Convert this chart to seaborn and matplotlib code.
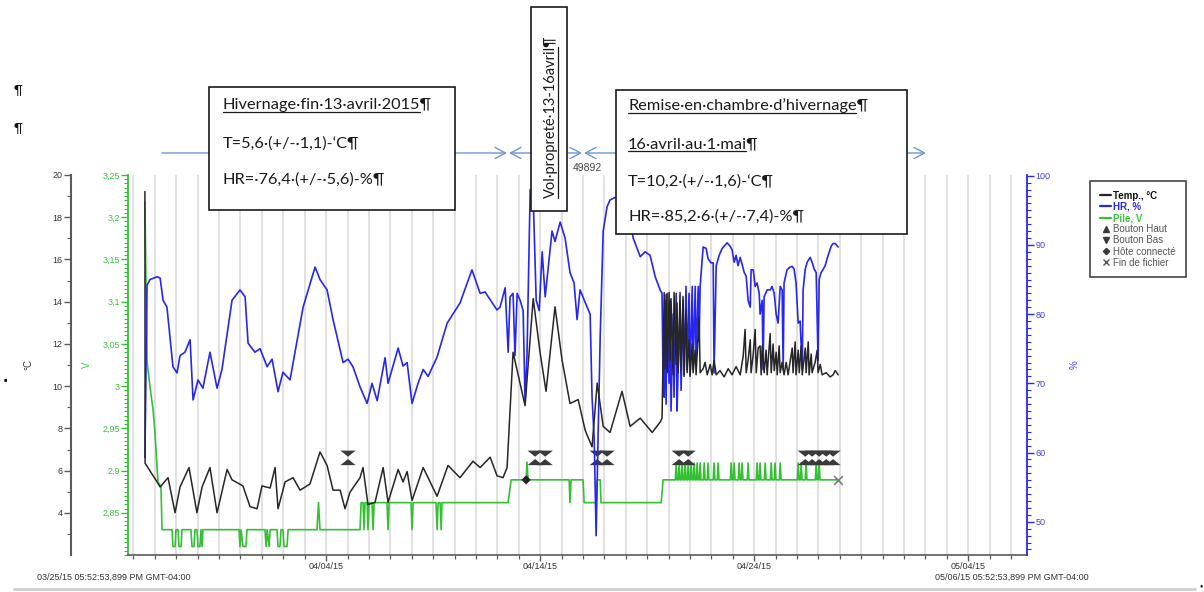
import numpy as np
import pandas as pd
import matplotlib
matplotlib.use("Agg")
import matplotlib.pyplot as plt
import matplotlib.dates as mdates
from matplotlib.lines import Line2D
from matplotlib.patches import Rectangle, FancyArrowPatch
from matplotlib.ticker import FixedLocator, MultipleLocator, FuncFormatter
import seaborn as sns

sns.set_theme(style="white")
plt.rcParams["font.family"] = ["Liberation Sans", "DejaVu Sans"]

START = pd.Timestamp("2015-03-25 17:52:53.899")
END = pd.Timestamp("2015-05-06 17:52:53.899")

# ---------------- logger records (days elapsed since START) ----------------
temp_days = [0.79, 0.80, 1.36, 1.50, 1.87, 2.20, 2.43, 2.85, 3.22, 3.46, 3.83, 4.16, 4.63, 4.86,
             5.37, 5.70, 6.03, 6.26, 6.64, 6.87, 7.01, 7.34, 7.71, 8.04, 8.50, 8.97, 9.30, 9.58,
             9.91, 10.14, 10.37, 10.84, 10.98, 11.21, 11.54, 11.92, 12.15, 12.62, 12.85, 13.04,
             13.27, 13.79, 14.44, 14.95, 15.51, 16.12, 16.45, 16.92, 17.24, 17.52, 17.71, 17.99,
             18.55, 18.93, 19.25, 19.53, 19.95, 20.28, 20.65, 21.03, 21.36, 21.68, 21.92, 22.20,
             22.52, 23.08, 23.46, 23.93, 24.49, 24.86, 24.95,
             25.05, 25.09, 25.14, 25.19, 25.28, 25.33, 25.37, 25.47, 25.51, 25.61, 25.65, 25.70,
             25.79, 25.84, 25.93, 25.98, 26.07, 26.12, 26.21, 26.26, 26.36, 26.40, 26.50, 26.54,
             26.68, 26.73, 26.87, 26.96, 27.06, 27.20, 27.29, 27.38, 27.48, 27.66, 27.85, 28.04,
             28.22, 28.41, 28.60, 28.74, 28.83, 28.88, 28.97, 29.07, 29.11, 29.21, 29.30, 29.35,
             29.44, 29.53, 29.58, 29.63, 29.72, 29.81, 29.86, 30.00, 30.05, 30.14, 30.19, 30.28,
             30.33, 30.42, 30.47, 30.56, 30.65, 30.75, 30.84, 31.03, 31.07, 31.17, 31.21, 31.31,
             31.36, 31.45, 31.50, 31.64, 31.68, 31.78, 31.82, 31.92, 31.96, 32.10, 32.20, 32.24,
             32.34, 32.43, 32.62, 32.80, 32.94, 33.04, 33.18]
temp_c = [19.22, 6.35, 5.47, 5.23, 5.67, 4.01, 5.23, 6.15, 4.01, 5.23, 6.15, 4.01, 6.06, 5.57,
          5.28, 4.30, 4.20, 5.28, 5.18, 6.15, 4.20, 5.47, 5.67, 5.08, 5.37, 6.89, 6.25, 5.08,
          5.08, 4.20, 4.98, 5.67, 6.15, 4.40, 4.50, 6.15, 4.50, 6.06, 5.47, 5.96,
          4.59, 6.15, 4.79, 6.25, 5.67, 6.45, 6.15, 6.64, 5.76, 5.67, 6.15, 11.61,
          9.08, 14.15, 11.61, 9.76, 13.76, 11.23, 9.18, 9.37, 7.91, 7.13, 10.15, 8.10,
          7.81, 9.76, 8.10, 8.49, 7.81, 8.30, 8.49,
          14.44, 10.83, 14.34, 10.64, 14.44, 11.23, 14.15, 10.54, 14.44, 11.03, 13.95, 10.64,
          14.44, 10.74, 14.25, 10.54, 13.66, 10.64, 12.20, 10.54, 12.00, 10.64, 11.71, 10.54,
          13.27, 10.64, 10.83, 11.13, 10.54, 11.03, 10.54, 11.23, 10.54, 10.74, 10.44, 10.83,
          10.54, 10.93, 10.54, 11.42, 12.69, 10.64, 11.23, 12.20, 10.64, 11.52, 12.69, 10.64,
          11.81, 11.91, 10.54, 11.91, 10.64, 11.71, 10.54, 12.49, 10.64, 12.00, 10.74, 11.61,
          10.54, 11.91, 10.64, 11.13, 10.54, 11.13, 10.54, 11.81, 10.64, 12.10, 10.54, 11.71,
          10.64, 11.91, 10.54, 11.81, 10.64, 12.10, 10.54, 11.52, 10.64, 11.13, 11.71, 10.64,
          11.03, 10.54, 10.64, 10.44, 10.54, 10.74, 10.54]

hr_days = [0.79, 0.89, 1.03, 1.36, 1.50, 1.64, 1.82, 2.10, 2.29, 2.43, 2.66, 2.90, 3.04, 3.27,
           3.50, 3.83, 4.16, 4.39, 4.86, 5.23, 5.47, 5.61, 5.93, 6.17, 6.50, 6.73, 7.01, 7.24,
           7.57, 8.18, 8.74, 8.97, 9.30, 9.58, 10.05, 10.28, 10.51, 10.84, 11.17, 11.40, 11.64,
           12.01, 12.15, 12.62, 12.85, 13.04, 13.27, 13.55, 13.79, 14.02, 14.44, 14.91, 15.51,
           16.07, 16.45, 16.68, 17.24, 17.38, 17.62, 17.76, 17.85, 17.99, 18.08, 18.18, 18.32,
           18.46, 18.55, 18.64, 18.79, 18.93, 19.07, 19.21, 19.35, 19.49, 19.81, 19.95, 20.19,
           20.42, 20.65, 20.84, 20.98, 21.12, 21.45, 21.59, 21.68, 21.78, 21.87, 21.96, 22.06,
           22.20, 22.38, 22.52, 22.85, 23.13, 23.46, 23.60, 23.93, 24.16, 24.39, 24.63, 24.86,
           24.95, 25.00, 25.05, 25.09, 25.14, 25.19, 25.28, 25.33, 25.37, 25.47, 25.51, 25.61,
           25.65, 25.70, 25.79, 25.84, 25.93, 25.98, 26.07, 26.12, 26.21, 26.26, 26.36, 26.40,
           26.50, 26.54, 26.64, 26.68, 26.73, 26.87, 27.01, 27.10, 27.24, 27.34, 27.38, 27.48,
           27.62, 27.76, 27.90, 27.99, 28.13, 28.22, 28.32, 28.41, 28.50, 28.60, 28.69, 28.79,
           28.88, 28.97, 29.07, 29.11, 29.21, 29.30, 29.39, 29.49, 29.53, 29.63, 29.67, 29.72,
           29.86, 30.00, 30.09, 30.19, 30.28, 30.37, 30.47, 30.56, 30.61, 30.65, 30.79, 30.93,
           31.03, 31.12, 31.21, 31.31, 31.40, 31.50, 31.54, 31.64, 31.73, 31.87, 31.96, 32.06,
           32.15, 32.24, 32.29, 32.38, 32.48, 32.57, 32.71, 32.85, 32.94, 33.04, 33.18]
hr_pct = [59.3, 84.2, 85.0, 85.4, 85.2, 82.0, 81.0, 72.4, 71.5, 74.0, 74.5, 76.3, 67.6, 70.5,
          69.3, 74.5, 69.3, 72.0, 82.0, 83.5, 82.5, 75.8, 74.5, 75.0, 72.4, 73.5, 68.8, 71.6,
          70.5, 81.0, 86.8, 85.0, 83.5, 79.2, 73.0, 73.5, 72.4, 69.5, 67.1, 70.0, 67.5,
          73.7, 70.0, 75.1, 72.5, 73.0, 67.1, 70.0, 72.0, 71.0, 73.8, 78.7, 81.6,
          86.4, 83.0, 83.2, 80.6, 81.0, 83.8, 74.5, 82.5, 83.0, 74.0, 83.0, 82.0,
          80.5, 67.5, 74.0, 98.0, 97.0, 82.0, 80.5, 89.0, 82.5, 92.0, 90.5, 93.3,
          91.0, 86.0, 84.5, 79.2, 83.5, 81.0, 80.0, 68.0, 62.0, 48.0, 62.0, 76.7,
          92.0, 95.5, 96.5, 97.0, 96.0, 93.5, 91.0, 88.3, 89.0, 88.5, 85.4, 83.5,
          83.0, 70.0, 68.0, 82.0, 67.0, 83.0, 70.0, 82.0, 66.0, 80.0, 68.0, 83.0,
          66.0, 72.0, 80.0, 69.0, 82.0, 71.0, 84.0, 72.0, 83.0, 71.0, 84.0, 72.0,
          84.0, 73.0, 84.0, 76.0, 84.0, 89.7, 89.5, 88.0, 87.4, 87.4, 71.5, 87.0,
          88.5, 89.5, 90.0, 90.3, 89.8, 89.3, 87.5, 88.5, 87.0, 88.2, 87.2, 86.0,
          85.5, 82.0, 81.0, 86.4, 86.4, 84.0, 84.5, 83.0, 80.0, 82.0, 72.0, 82.5,
          83.5, 83.5, 84.0, 83.0, 80.0, 78.7, 84.0, 83.5, 72.0, 84.5, 86.4, 86.8,
          86.9, 86.5, 84.5, 78.7, 79.0, 72.0, 83.5, 86.5, 87.5, 88.2, 87.5, 86.5,
          86.0, 73.3, 85.0, 86.0, 86.5, 87.0, 88.5, 89.8, 90.2, 90.2, 89.7]

pile_days = [0.79, 0.89, 1.03, 1.17, 1.26, 1.40, 1.54, 1.59,
             2.06, 2.10, 2.20, 2.24, 2.34, 2.38, 2.48, 2.52,
             2.94, 2.99, 3.08, 3.13, 3.22, 3.27, 3.36, 3.41, 3.46, 3.50,
             5.19, 5.23, 5.28, 5.37, 5.51, 5.56,
             6.40, 6.45, 6.50, 6.59, 6.64,
             6.96, 7.01, 7.10, 7.15, 7.24, 7.29, 7.43, 7.48,
             8.83, 8.90, 8.97,
             10.84, 10.89, 10.98, 11.03, 11.07, 11.17, 11.21, 11.26, 11.40, 11.45, 11.50,
             12.10, 12.15, 12.20, 13.22, 13.27, 13.32,
             14.39, 14.44, 14.49, 14.58, 14.63, 14.67,
             17.76, 17.90, 18.60, 18.64, 18.69,
             20.61, 20.65, 20.70, 21.26, 21.31, 21.87, 21.92, 22.06, 22.10,
             24.91, 25.00,
             25.57, 25.61, 25.65, 25.71, 25.75, 25.79, 25.85, 25.89, 25.93,
             25.99, 26.03, 26.07, 26.13, 26.17, 26.21, 26.27, 26.31, 26.35,
             26.41, 26.45, 26.49, 26.55, 26.59, 26.63, 26.69, 26.73, 26.77,
             26.88, 26.92, 26.96, 27.06, 27.10, 27.14, 27.34, 27.38, 27.42,
             27.53, 27.57, 27.61, 28.14, 28.18, 28.22, 28.28, 28.32, 28.36,
             28.51, 28.55, 28.59, 28.65, 28.69, 28.73, 28.93, 28.97, 29.01,
             29.35, 29.39, 29.43, 29.49, 29.53, 29.57, 29.73, 29.77, 29.81,
             30.01, 30.05, 30.09, 30.19, 30.23, 30.27, 30.43, 30.47, 30.51,
             31.27, 31.31, 31.35, 31.41, 31.45, 31.49, 31.64, 31.68, 31.72,
             32.11, 32.15, 32.19, 32.25, 32.29, 32.33,
             33.18]
pile_v = [3.218, 3.029, 2.999, 2.972, 2.945, 2.886, 2.881, 2.830,
          2.830, 2.810, 2.810, 2.830, 2.830, 2.810, 2.810, 2.830,
          2.830, 2.810, 2.810, 2.830, 2.830, 2.810, 2.810, 2.830, 2.810, 2.830,
          2.830, 2.810, 2.830, 2.810, 2.810, 2.830,
          2.830, 2.810, 2.830, 2.810, 2.830,
          2.830, 2.810, 2.810, 2.830, 2.830, 2.810, 2.810, 2.830,
          2.830, 2.862, 2.830,
          2.830, 2.862, 2.862, 2.830, 2.862, 2.862, 2.830, 2.862, 2.862, 2.830, 2.862,
          2.862, 2.830, 2.862, 2.862, 2.830, 2.862,
          2.862, 2.830, 2.862, 2.862, 2.830, 2.862,
          2.862, 2.889, 2.889, 2.910, 2.889,
          2.889, 2.862, 2.889, 2.889, 2.862, 2.862, 2.889, 2.889, 2.862,
          2.862, 2.889,
          2.889, 2.909, 2.889, 2.889, 2.909, 2.889, 2.889, 2.909, 2.889,
          2.889, 2.909, 2.889, 2.889, 2.909, 2.889, 2.889, 2.909, 2.889,
          2.889, 2.909, 2.889, 2.889, 2.909, 2.889, 2.889, 2.909, 2.889,
          2.889, 2.909, 2.889, 2.889, 2.909, 2.889, 2.889, 2.909, 2.889,
          2.889, 2.909, 2.889, 2.889, 2.909, 2.889, 2.889, 2.909, 2.889,
          2.889, 2.909, 2.889, 2.889, 2.909, 2.889, 2.889, 2.909, 2.889,
          2.889, 2.909, 2.889, 2.889, 2.909, 2.889, 2.889, 2.909, 2.889,
          2.889, 2.909, 2.889, 2.889, 2.909, 2.889, 2.889, 2.909, 2.889,
          2.889, 2.909, 2.889, 2.889, 2.909, 2.889, 2.889, 2.909, 2.889,
          2.889, 2.909, 2.889, 2.889, 2.909, 2.889,
          2.889]

# event marks
bouton_days = [10.28, 19.02, 19.49, 21.92, 22.38, 25.75, 26.17, 31.64, 31.96, 32.29, 32.62, 32.94]
hote_days = [18.60]
hote_v = [2.889]
fin_days = [33.18]
fin_v = [2.889]

major_dates = ["2015-04-04", "2015-04-14", "2015-04-24", "2015-05-04"]
temp_ticks = [4, 6, 8, 10, 12, 14, 16, 18, 20]
volt_ticks = [2.85, 2.9, 2.95, 3.0, 3.05, 3.1, 3.15, 3.2, 3.25]
hr_ticks = [50, 60, 70, 80, 90, 100]

# ---------------- styling ----------------
C_TEMP = "#262626"
C_HR = "#2626f2"
C_PILE = "#33c133"
C_HR_TXT = "#3d3dff"
C_PILE_TXT = "#3dc43d"
C_AX = "#5a5a5a"
C_EVT = "#3a3a3a"
BOX_FONT = ["Lato", "DejaVu Sans"]
BOX_FS = 11.8

W, H = 1204, 592
fig = plt.figure(figsize=(W / 100, H / 100), dpi=100)
fig.patch.set_facecolor("white")


def fx(x):
    return x / W


def fy(y):
    return 1 - y / H


def to_time(days):
    return START + pd.to_timedelta(np.asarray(days, dtype=float), unit="D")


L, R, T, B = 128, 1027, 175, 555
ax_v = fig.add_axes([fx(L), fy(B), fx(R) - fx(L), fy(T) - fy(B)])
ax_h = ax_v.twinx()
ax_t = ax_v.twinx()
for z, a in enumerate([ax_v, ax_h, ax_t]):
    a.set_zorder(1 + z)
    a.patch.set_visible(False)
    for s in a.spines.values():
        s.set_visible(False)

# ---- series ----
pile_df = pd.DataFrame({"time": to_time(pile_days), "V": pile_v})
hr_df = pd.DataFrame({"time": to_time(hr_days), "HR": hr_pct})
temp_df = pd.DataFrame({"time": to_time(temp_days), "T": temp_c})

sns.lineplot(data=pile_df, x="time", y="V", ax=ax_v, color=C_PILE, lw=1.2,
             sort=False, estimator=None, legend=False)
sns.lineplot(data=hr_df, x="time", y="HR", ax=ax_h, color=C_HR, lw=1.2,
             sort=False, estimator=None, legend=False)
sns.lineplot(data=temp_df, x="time", y="T", ax=ax_t, color=C_TEMP, lw=1.1,
             sort=False, estimator=None, legend=False)

# event markers: button presses drawn as down/up triangle pairs
tri_down = [(-1, 0.4), (1, 0.4), (0, -0.4), (-1, 0.4)]
tri_up = [(-1, -0.4), (1, -0.4), (0, 0.4), (-1, -0.4)]
btn_df = pd.DataFrame({"time": to_time(bouton_days)})
btn_df["bas"] = 2.920
btn_df["haut"] = 2.910
sns.scatterplot(data=btn_df, x="time", y="bas", ax=ax_v, marker=tri_down, s=120,
                color=C_EVT, edgecolor="none", zorder=5, legend=False)
sns.scatterplot(data=btn_df, x="time", y="haut", ax=ax_v, marker=tri_up, s=120,
                color=C_EVT, edgecolor="none", zorder=5, legend=False)
sns.scatterplot(x=to_time(hote_days), y=hote_v, ax=ax_v, marker="D", s=22,
                color="#202020", edgecolor="none", zorder=5, legend=False)
sns.scatterplot(x=to_time(fin_days), y=fin_v, ax=ax_v, marker="x", s=40,
                color="#7a7a7a", linewidth=1.2, zorder=5, legend=False)

# ---- axes limits ----
ax_v.set_xlim(START, END)
ax_t.set_ylim(2.01, 20)
ax_v.set_ylim(2.80, 3.25)
ax_h.set_ylim(45.2, 100.1)
for a in (ax_v, ax_h, ax_t):
    a.set_xlabel("")

# x axis
ax_v.xaxis.set_major_locator(FixedLocator(mdates.date2num(pd.to_datetime(major_dates))))
ax_v.xaxis.set_minor_locator(mdates.DayLocator())
ax_v.xaxis.set_major_formatter(mdates.DateFormatter("%m/%d/%y"))
ax_v.grid(True, which="both", axis="x", color="#e1e1e1", lw=1.4)
ax_v.grid(False, axis="y")
ax_v.spines["bottom"].set_visible(True)
ax_v.spines["bottom"].set_color(C_AX)
ax_v.spines["bottom"].set_linewidth(1.2)
ax_v.tick_params(axis="x", which="major", direction="out", length=4.5, width=1, color=C_AX,
                 labelsize=6.5, labelcolor="#333333", pad=0.5, bottom=True)
ax_v.tick_params(axis="x", which="minor", direction="out", length=3, width=0.9, color=C_AX,
                 bottom=True)
for a in (ax_h, ax_t):
    a.tick_params(axis="x", which="both", bottom=False, labelbottom=False)

# voltage axis on the inner left
ax_v.yaxis.tick_left()
ax_v.spines["left"].set_visible(True)
ax_v.spines["left"].set_color(C_PILE)
ax_v.spines["left"].set_linewidth(1.3)
ax_v.yaxis.set_major_locator(FixedLocator(volt_ticks))
ax_v.yaxis.set_minor_locator(MultipleLocator(0.005))
ax_v.yaxis.set_major_formatter(FuncFormatter(lambda v, p: ("%g" % round(v, 3)).replace(".", ",")))
ax_v.tick_params(axis="y", which="major", direction="out", length=5, width=1, color=C_PILE,
                 labelsize=6.5, labelcolor=C_PILE_TXT, pad=1, left=True)
ax_v.tick_params(axis="y", which="minor", direction="out", length=3, width=0.8, color=C_PILE,
                 left=True)
ax_v.set_ylabel("V", color=C_PILE_TXT, fontsize=7, labelpad=7)

# temperature axis, offset to the far left
ax_t.yaxis.tick_left()
ax_t.yaxis.set_label_position("left")
ax_t.spines["left"].set_visible(True)
ax_t.spines["left"].set_position(("outward", 41))
ax_t.spines["left"].set_color(C_AX)
ax_t.spines["left"].set_linewidth(1.5)
ax_t.yaxis.set_major_locator(FixedLocator(temp_ticks))
ax_t.yaxis.set_minor_locator(FixedLocator(list(range(3, 20, 2))))
ax_t.tick_params(axis="y", which="major", direction="out", length=5, width=1, color=C_AX,
                 labelsize=6.5, labelcolor="#333333", pad=1, left=True, right=False)
ax_t.tick_params(axis="y", which="minor", direction="out", length=3, width=0.8, color=C_AX,
                 left=True, right=False)
ax_t.set_ylabel("°C", color="#333333", fontsize=7, labelpad=14)

# humidity axis on the right
ax_h.spines["right"].set_visible(True)
ax_h.spines["right"].set_color(C_HR)
ax_h.spines["right"].set_linewidth(1.3)
ax_h.yaxis.set_major_locator(FixedLocator(hr_ticks))
ax_h.yaxis.set_minor_locator(MultipleLocator(1))
ax_h.tick_params(axis="y", which="major", direction="out", length=5, width=1, color=C_HR,
                 labelsize=6.5, labelcolor=C_HR_TXT, pad=1, right=True)
ax_h.tick_params(axis="y", which="minor", direction="out", length=3, width=0.8, color=C_HR,
                 right=True)
ax_h.set_ylabel("%", color=C_HR_TXT, fontsize=7, labelpad=14)

# range labels under the time axis
fig.text(fx(37), fy(577), "03/25/15 05:52:53,899 PM GMT-04:00", fontsize=6.5,
         color="#333333", va="center", ha="left")
fig.text(fx(935), fy(577), "05/06/15 05:52:53,899 PM GMT-04:00", fontsize=6.5,
         color="#333333", va="center", ha="left")

# ---- legend ----
handles = [
    Line2D([], [], color=C_TEMP, lw=1.6),
    Line2D([], [], color=C_HR, lw=1.6),
    Line2D([], [], color=C_PILE, lw=1.6),
    Line2D([], [], color=C_EVT, marker="^", ls="none", ms=4.5),
    Line2D([], [], color=C_EVT, marker="v", ls="none", ms=4.5),
    Line2D([], [], color=C_EVT, marker="D", ls="none", ms=3.2),
    Line2D([], [], color="#555555", marker="x", ls="none", ms=4.5, mew=1),
]
labels = ["Temp., °C", "HR, %", "Pile, V", "Bouton Haut", "Bouton Bas",
          "Hôte connecté", "Fin de fichier"]
leg = fig.legend(handles, labels, loc="upper left", bbox_to_anchor=(fx(1090), fy(181)),
                 bbox_transform=fig.transFigure, fontsize=7, frameon=True, fancybox=False,
                 edgecolor="#444444", framealpha=1, handlelength=1.2, handletextpad=0.2,
                 labelspacing=0.12, borderpad=1.0, borderaxespad=0)
leg.get_frame().set_linewidth(1.2)
for txt, col, bold in zip(leg.get_texts(),
                          ["#111111", C_HR, C_PILE_TXT, "#555555", "#555555", "#555555", "#555555"],
                          [True, True, True, False, False, False, False]):
    txt.set_color(col)
    if bold:
        txt.set_fontweight("bold")
leg.set_zorder(10)

# ---- annotation boxes ----
renderer = fig.canvas.get_renderer()


def text_extent(body, **kw):
    """Width/height of a string in display pixels, measured off-canvas."""
    probe = fig.text(0, 0, body, **kw)
    bb = probe.get_window_extent(renderer)
    probe.remove()
    return bb


def box(x0, y0, x1, y1):
    fig.add_artist(Rectangle((fx(x0), fy(y1)), fx(x1) - fx(x0), fy(y0) - fy(y1),
                             transform=fig.transFigure, facecolor="white",
                             edgecolor="#1a1a1a", lw=1.2, zorder=6))


def line_text(x, base, body, underline=False):
    style = dict(fontsize=BOX_FS, family=BOX_FONT)
    fig.text(fx(x), fy(base), body + "¶", color="#1a1a1a", ha="left", va="baseline",
             zorder=7, **style)
    if underline:
        width = text_extent(body, **style).width
        fig.add_artist(Line2D([fx(x), fx(x + width - 1)], [fy(base + 2.5)] * 2,
                              transform=fig.transFigure, color="#1a1a1a", lw=0.9, zorder=7))


def arrow(xa, xb, y=153):
    fig.add_artist(FancyArrowPatch((fx(xa), fy(y)), (fx(xb), fy(y)),
                                   transform=fig.transFigure,
                                   arrowstyle="->,head_length=0.75,head_width=0.4",
                                   mutation_scale=10, color="#6f96cf", lw=1.0,
                                   shrinkA=0, shrinkB=0, zorder=5.5))


arrow(162, 507)
arrow(531, 509)
arrow(568, 582)
arrow(616, 584)
arrow(906, 926)

box(209, 87, 455, 210)
line_text(223, 109, "Hivernage·fin·13·avril·2015", underline=True)
line_text(223, 148, "T=5,6·(+/-·1,1)-‘C")
line_text(223, 184, "HR=·76,4·(+/-·5,6)-%")

box(616, 90, 907, 234)
line_text(628, 110, "Remise·en·chambre·d’hivernage", underline=True)
line_text(628, 148, "16·avril·au·1·mai", underline=True)
line_text(628, 186, "T=10,2·(+/-·1,6)-‘C")
line_text(628, 221, "HR=·85,2·6·(+/-·7,4)-%")

box(531, 7, 567, 211)
vstyle = dict(fontsize=10.5, family=BOX_FONT)
vbody = "Vol·propreté·13-16avril"
fig.text(fx(555), fy(198), vbody + "¶", color="#1a1a1a", rotation=90, rotation_mode="anchor",
         ha="left", va="baseline", zorder=7, **vstyle)
vlen = text_extent(vbody, **vstyle).width
fig.add_artist(Line2D([fx(557.5)] * 2, [fy(198), fy(198 - vlen + 1)], transform=fig.transFigure,
                      color="#1a1a1a", lw=0.9, zorder=7))

fig.text(fx(587), fy(168), "49892", fontsize=7.5, color="#444444", ha="center", va="center",
         zorder=7)

# page marks around the chart
fig.text(fx(14), fy(90), "¶", fontsize=9, color="#111111", va="center", family=BOX_FONT)
fig.text(fx(14), fy(128), "¶", fontsize=9, color="#111111", va="center", family=BOX_FONT)
fig.text(fx(5), fy(380), "■", fontsize=4, color="#111111", va="center", ha="center")
fig.text(fx(1201), fy(586), "●", fontsize=4, color="#111111", va="center", ha="center")
fig.add_artist(Line2D([fx(14), fx(1195)], [fy(589)] * 2, transform=fig.transFigure,
                      color="#cfcfcf", lw=2, zorder=1))

fig.savefig("out.png", dpi=100, facecolor="white")
